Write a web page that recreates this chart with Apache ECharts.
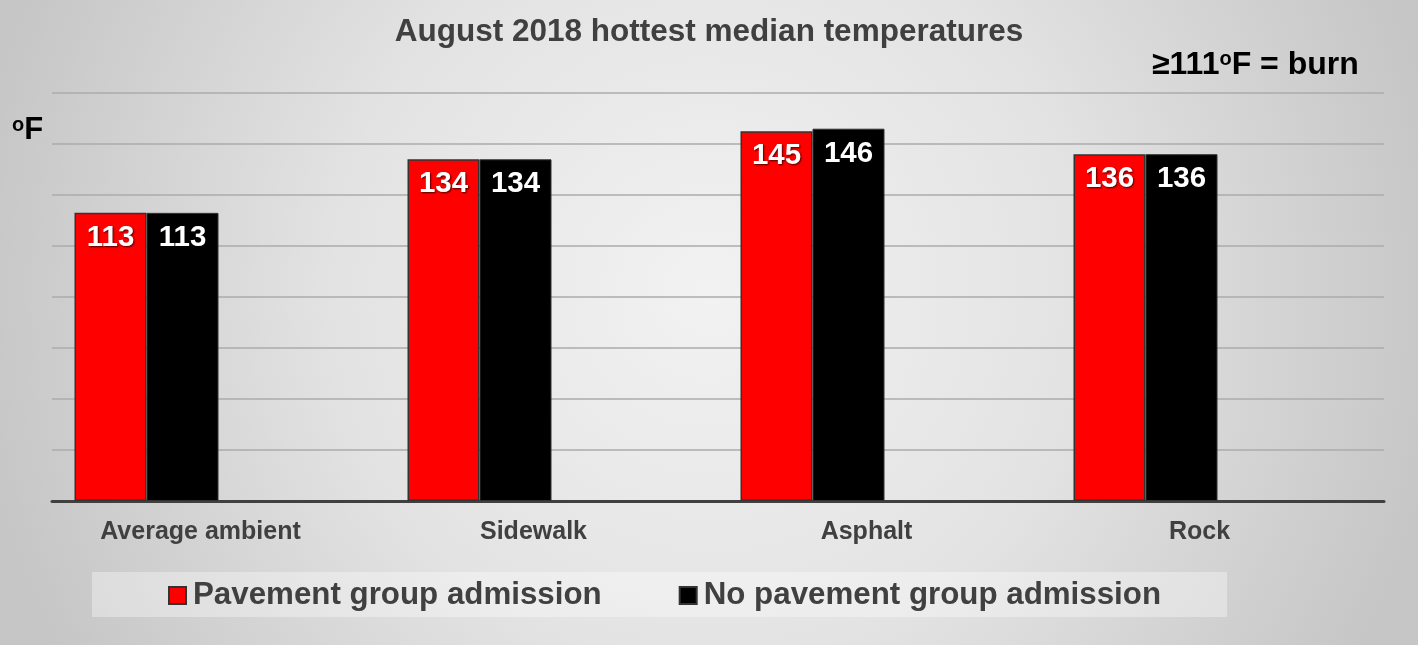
<!DOCTYPE html>
<html>
<head>
<meta charset="utf-8">
<script src="https://cdn.jsdelivr.net/npm/echarts@6/dist/echarts.min.js"></script>
<style>
html,body{margin:0;padding:0;background:#fff;}
#c{width:1418px;height:645px;}
</style>
</head>
<body>
<div id="c"></div>
<script>
const categories = ['Average ambient', 'Sidewalk', 'Asphalt', 'Rock'];
const seriesNames = ['Pavement group admission', 'No pavement group admission'];
const pavement = [113, 134, 145, 136];
const noPavement = [113, 134, 146, 136];
const emptySeries = [null, null, null, null];
const yMin = 0, yMax = 160, yStep = 20;

const FONT = '"Liberation Sans", Arial, sans-serif';
const chart = echarts.init(document.getElementById('c'), null, {renderer: 'canvas'});

const labelStyle = {
  show: true,
  position: 'insideTop',
  distance: 10,
  color: '#fff',
  fontFamily: FONT,
  fontWeight: 'bold',
  fontSize: 29.5,
  textShadowColor: 'rgba(0,0,0,0.7)',
  textShadowBlur: 2,
  textShadowOffsetX: 1,
  textShadowOffsetY: 1
};

const supStyle = {fontFamily: FONT, fontWeight: 'bold', fontSize: 20, color: '#000', verticalAlign: 'top', padding: [0, 0, 10, 0]};

chart.setOption({
  animation: false,
  backgroundColor: {
    type: 'radial', x: 0.5, y: 0.45, r: 1.15,
    colorStops: [
      {offset: 0, color: '#f2f2f2'},
      {offset: 0.5, color: '#e3e3e3'},
      {offset: 1, color: '#c6c6c6'}
    ]
  },
  title: [
    {
      text: 'August 2018 hottest median temperatures',
      left: 'center', top: 16, padding: 0,
      textStyle: {fontFamily: FONT, fontWeight: 'bold', fontSize: 31.5, color: '#404040'}
    },
    {
      text: '≥111{s|o}F = burn',
      left: 1152, top: 49, padding: 0,
      textStyle: {
        fontFamily: FONT, fontWeight: 'bold', fontSize: 32, color: '#000',
        rich: {s: supStyle}
      }
    },
    {
      text: '{s|o}F',
      left: 12, top: 115, padding: 0,
      textStyle: {
        fontFamily: FONT, fontWeight: 'bold', fontSize: 31, color: '#000',
        rich: {s: supStyle}
      }
    }
  ],
  graphic: [{
    type: 'rect', left: 92, top: 572, z: -1,
    shape: {width: 1135, height: 45},
    style: {fill: 'rgba(255,255,255,0.35)'}
  }],
  legend: {
    data: seriesNames,
    left: 168, top: 580,
    itemWidth: 17, itemHeight: 17, itemGap: 77,
    icon: 'rect',
    padding: 0,
    textStyle: {fontFamily: FONT, fontWeight: 'bold', fontSize: 31.3, color: '#404040', padding: [0, 0, 0, 2]}
  },
  grid: {left: 52, right: 34, top: 93, bottom: 144, containLabel: false},
  xAxis: {
    type: 'category',
    data: categories,
    axisLine: {lineStyle: {color: '#404040', width: 3}},
    axisTick: {show: false},
    axisLabel: {
      fontFamily: FONT, fontWeight: 'bold', fontSize: 25, color: '#404040',
      margin: 19, padding: [0, 36, 0, 0], interval: 0
    }
  },
  yAxis: {
    type: 'value', min: yMin, max: yMax, interval: yStep,
    axisLabel: {show: false},
    axisLine: {show: false},
    axisTick: {show: false},
    splitLine: {lineStyle: {color: '#ababab', width: 1.5}}
  },
  series: [
    {
      name: seriesNames[0], type: 'bar', data: pavement,
      barWidth: 72, barGap: '0%',
      itemStyle: {color: '#ff0000', borderColor: '#333', borderWidth: 1.5},
      label: labelStyle
    },
    {
      name: seriesNames[1], type: 'bar', data: noPavement,
      barWidth: 72, barGap: '0%',
      itemStyle: {color: '#000000', borderColor: '#333', borderWidth: 1},
      label: labelStyle
    },
    {name: 'pad1', type: 'bar', data: emptySeries, barWidth: 72, barGap: '0%'},
    {name: 'pad2', type: 'bar', data: emptySeries, barWidth: 72, barGap: '0%'}
  ]
});
</script>
</body>
</html>
